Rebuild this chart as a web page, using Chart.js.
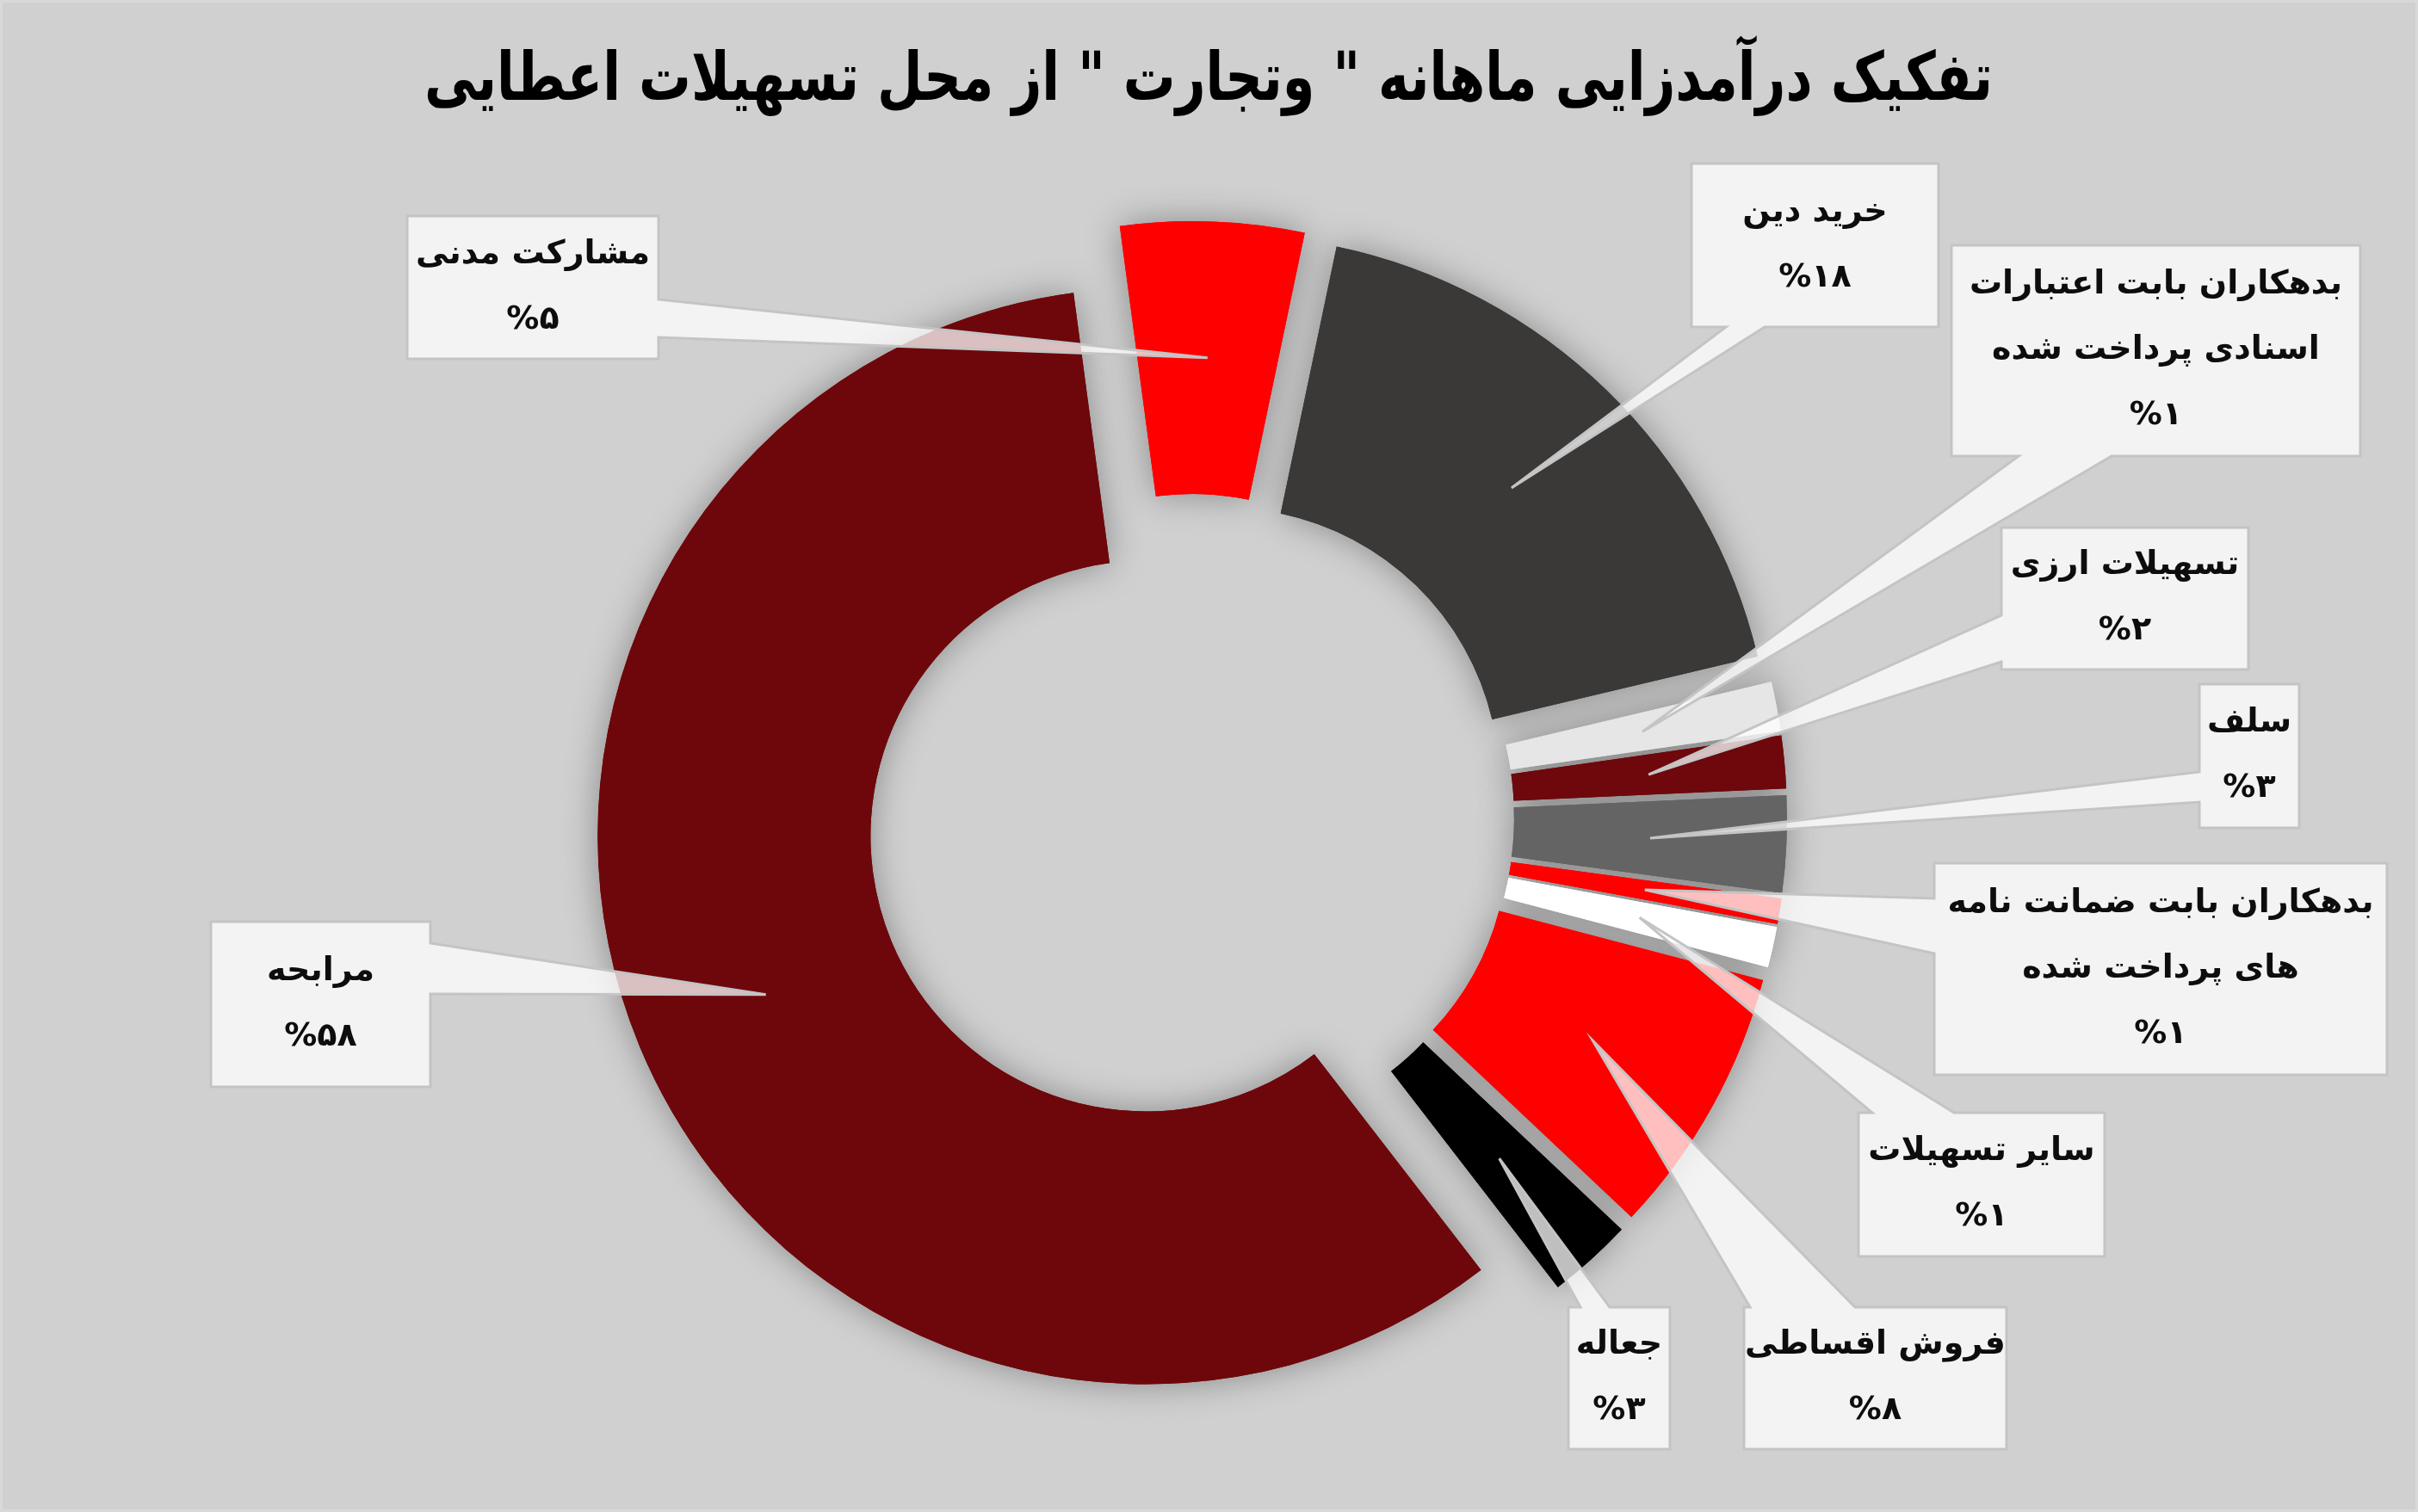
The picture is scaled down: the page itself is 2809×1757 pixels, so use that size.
<!DOCTYPE html>
<html><head><meta charset="utf-8">
<script src="https://cdn.jsdelivr.net/npm/chart.js@4.4.1/dist/chart.umd.min.js"></script>
<style>html,body{margin:0;padding:0;background:#d9d9d9;overflow:hidden}canvas{display:block}</style>
</head><body><canvas id="c" width="2809" height="1757"></canvas>
<script>
// ---- data ----
const titleText = 'تفکیک درآمدزایی ماهانه " وتجارت " از محل تسهیلات اعطایی';
const categories = ['مشارکت مدنی','خرید دین','بدهکاران بابت اعتبارات اسنادی پرداخت شده','تسهیلات ارزی','سلف','بدهکاران بابت ضمانت نامه های پرداخت شده','سایر تسهیلات','فروش اقساطی','جعاله','مرابحه'];
const shares = [5.4, 18.0, 1.45, 1.55, 2.85, 0.75, 1.2, 7.95, 2.5, 58.35];
const percentLabels = ['%۵','%۱۸','%۱','%۲','%۳','%۱','%۱','%۸','%۳','%۵۸'];
const labelLines = [['مشارکت مدنی'],['خرید دین'],['بدهکاران بابت اعتبارات','اسنادی پرداخت شده'],['تسهیلات ارزی'],['سلف'],['بدهکاران بابت ضمانت نامه','های پرداخت شده'],['سایر تسهیلات'],['فروش اقساطی'],['جعاله'],['مرابحه']];
const sliceColors = ['#ff0000','#3a3938','#e6e6e6','#6e080c','#646464','#ff0000','#ffffff','#ff0000','#000000','#6e070b'];

// ---- layout (label boxes and wedge bases) ----
const boxes = [
  {x:473, y:251, w:292, h:166, side:'right', a:348, b:392},
  {x:1965,y:190, w:287, h:190, side:'bottom',a:2005,b:2050},
  {x:2267,y:285, w:475, h:245, side:'bottom',a:2345,b:2453},
  {x:2325,y:613, w:287, h:165, side:'left',  a:715, b:769},
  {x:2555,y:795, w:116, h:167, side:'left',  a:897, b:932},
  {x:2247,y:1003,w:526, h:246, side:'left',  a:1044,b:1108},
  {x:2159,y:1293,w:286, h:167, side:'top',   a:2175,b:2270},
  {x:2026,y:1519,w:305, h:165, side:'top',   a:2033,b:2155},
  {x:1822,y:1519,w:118, h:165, side:'top',   a:1836,b:1870},
  {x:245, y:1071,w:255, h:192, side:'right', a:1096,b:1155}
];
const EXPLODE = 56;
const FONT = '"DejaVu Sans", sans-serif';

const bgPlugin = {
  id:'bg',
  beforeDraw(chart){
    const c = chart.ctx;
    c.save();
    c.fillStyle = '#d9d9d9'; c.fillRect(0,0,chart.width,chart.height);
    c.fillStyle = '#d0d0d0'; c.fillRect(3,3,chart.width-6,chart.height-6);
    c.restore();
  }
};

const explodePlugin = {
  id:'explode',
  afterDatasetUpdate(chart, args){
    args.meta.data.forEach(arc=>{
      const mid = (arc.startAngle + arc.endAngle)/2;
      arc.x += Math.cos(mid)*EXPLODE;
      arc.y += Math.sin(mid)*EXPLODE;
    });
  },
  beforeDatasetsDraw(chart){
    const c = chart.ctx;
    c.save();
    c.shadowColor = 'rgba(0,0,0,0.34)';
    c.shadowBlur = 40;
    chart.getDatasetMeta(0).data.forEach(a=>a.draw(c));
    c.restore();
  }
};

const calloutPlugin = {
  id:'callouts',
  afterDatasetsDraw(chart){
    const c = chart.ctx;
    const arcs = chart.getDatasetMeta(0).data;
    arcs.forEach((arc,i)=>{
      const bx = boxes[i];
      const tip = arc.getCenterPoint();
      const {x,y,w,h,side,a,b} = bx;
      c.save();
      c.beginPath();
      c.moveTo(x,y);
      if(side==='top'){ c.lineTo(a,y); c.lineTo(tip.x,tip.y); c.lineTo(b,y); }
      c.lineTo(x+w,y);
      if(side==='right'){ c.lineTo(x+w,a); c.lineTo(tip.x,tip.y); c.lineTo(x+w,b); }
      c.lineTo(x+w,y+h);
      if(side==='bottom'){ c.lineTo(b,y+h); c.lineTo(tip.x,tip.y); c.lineTo(a,y+h); }
      c.lineTo(x,y+h);
      if(side==='left'){ c.lineTo(x,b); c.lineTo(tip.x,tip.y); c.lineTo(x,a); }
      c.closePath();
      c.fillStyle = 'rgba(255,255,255,0.75)';
      c.fill();
      c.lineWidth = 3;
      c.strokeStyle = '#c4c4c4';
      c.lineJoin = 'miter';
      c.stroke();
      // text
      const lines = labelLines[i].concat([percentLabels[i]]);
      const lh = 76;
      const cx = x + w/2;
      const y0 = y + h/2 - (lines.length-1)*lh/2;
      c.fillStyle = '#0d0d0d';
      c.font = 'bold 38px ' + FONT;
      c.textAlign = 'center';
      c.textBaseline = 'middle';
      lines.forEach((t,k)=>{
        c.direction = (k === lines.length-1) ? 'ltr' : 'rtl';
        c.fillText(t, cx, y0 + k*lh);
      });
      c.restore();
    });
  },
  afterDraw(chart){
    const c = chart.ctx;
    c.save();
    c.fillStyle = '#000';
    c.font = 'bold 78px ' + FONT;
    c.textAlign = 'center';
    c.textBaseline = 'middle';
    c.direction = 'rtl';
    c.fillText(titleText, 1404, 96, 1822);
    c.restore();
  }
};

new Chart(document.getElementById('c').getContext('2d'), {
  type:'doughnut',
  data:{ labels:categories, datasets:[{ data:shares, backgroundColor:sliceColors, borderWidth:0, hoverOffset:0 }] },
  options:{
    responsive:false, animation:false, devicePixelRatio:1, events:[],
    rotation:-7.6, radius:637, cutout:(320/637*100)+'%',
    layout:{ padding:{ left:0, right:43, top:143, bottom:0 } },
    plugins:{ legend:{display:false}, tooltip:{enabled:false}, title:{display:false} }
  },
  plugins:[bgPlugin, explodePlugin, calloutPlugin]
});
</script>
</body></html>
